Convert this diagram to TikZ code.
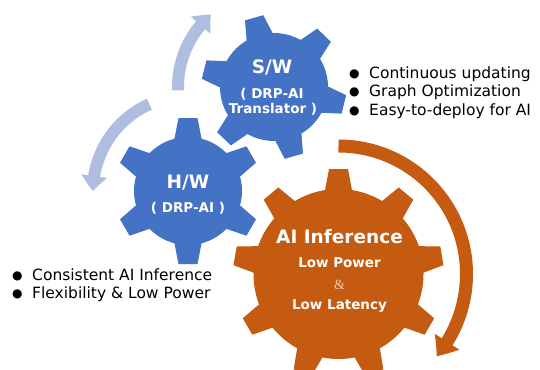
\documentclass[tikz,border=0pt]{standalone}
\usepackage{fontspec}
\setmainfont{DejaVu Sans}
\newfontfamily\ampfont{Liberation Serif}
\usetikzlibrary{arrows.meta,bending,calc}
\definecolor{gearblue}{HTML}{4472C4}
\definecolor{gearorange}{HTML}{C55A11}
\definecolor{arrowlight}{HTML}{AFBDE0}
\definecolor{amplight}{HTML}{F2CDB4}
% #1 centre, #2 teeth, #3 first tooth angle, #4 body radius, #5 tip radius, #6 colour
\newcommand\mygear[6]{%
  \fill[#6] (#1) circle[radius=#4];
  \foreach \k in {1,...,#2}{%
    \pgfmathsetmacro\ang{#3+360/#2*(\k-1)}%
    \fill[#6,shift={(#1)},rotate=\ang] (#4-4,-14) -- (#5,-9.5) -- (#5,9.5) -- (#4-4,14) -- cycle;
  }%
}
\tikzset{
  gtxt/.style={text=white,inner sep=0pt,anchor=base,font=\bfseries\fontsize{13.5}{15}\selectfont},
  gtitle/.style={gtxt,font=\bfseries\fontsize{18.5}{20}\selectfont},
  btxt/.style={inner sep=0pt,anchor=base west,text=black,font=\fontsize{15.5}{18}\selectfont},
  lightarrow/.style={arrowlight,line width=12pt,-{Triangle[width=25pt,length=15pt,bend]}},
  orangearrow/.style={gearorange,line width=13pt,-{Triangle[width=28pt,length=18pt,bend]}},
}
\newcommand\bul{\makebox[20pt][l]{\raisebox{0.6pt}{\fontsize{12}{12}\selectfont ●}}}
\begin{document}
\begin{tikzpicture}[x=1pt,y=1pt]
\useasboundingbox (0,0) rectangle (540,-369);
\clip (0,0) rectangle (540,-369);
\fill[white] (0,0) rectangle (540,-369);
\coordinate (swc) at (274,-87);
\coordinate (hwc) at (188,-191);
\coordinate (aic) at (338.5,-274);
% arrows
\draw[lightarrow] ($(swc)+(182:96)$) arc[start angle=182,end angle=131,radius=96];
\draw[lightarrow] ($(hwc)+(114:95)$) arc[start angle=114,end angle=180,radius=95];
\draw[orangearrow] ($(aic)+(90:128)$) arc[start angle=90,end angle=-40,radius=128];
% gears
\mygear{swc}{6}{106}{54}{72}{gearblue}
\mygear{hwc}{6}{90}{54}{73}{gearblue}
\mygear{aic}{9}{90}{85}{105}{gearorange}
% gear texts
\node[gtitle] (sw) at (272,-73) {S/W};
\node[gtxt] (sw1) at (272,-98) {( DRP-AI};
\node[gtxt] (sw2) at (273,-113) {Translator )};
\node[gtitle] (hw) at (188,-188) {H/W};
\node[gtxt] (hw1) at (188,-212) {( DRP-AI )};
\node[gtitle] (ai) at (339.5,-243) {AI Inference};
\node[gtxt] (ai1) at (339.5,-267) {Low Power};
\node[gtxt,text=amplight,font=\ampfont\fontsize{14}{16}\selectfont] (ai2) at (339.5,-289) {\&};
\node[gtxt] (ai3) at (339.5,-309) {Low Latency};
% bullet lists
\node[btxt] (b1) at (349,-78) {\bul Continuous updating};
\node[btxt] (b2) at (349,-96.5) {\bul Graph Optimization};
\node[btxt] (b3) at (349,-115) {\bul Easy-to-deploy for AI};
\node[btxt] (b4) at (12,-280) {\bul Consistent AI Inference};
\node[btxt] (b5) at (12,-298) {\bul Flexibility \& Low Power};
\end{tikzpicture}
\end{document}
